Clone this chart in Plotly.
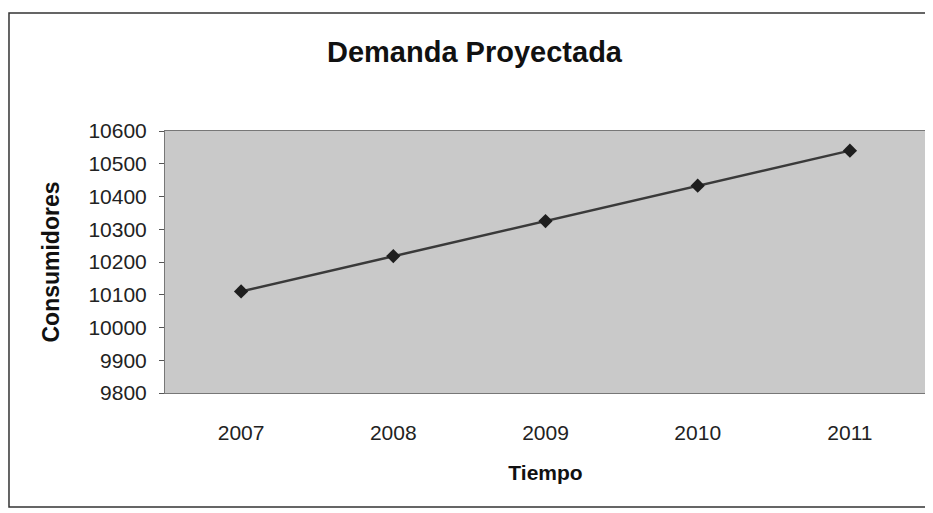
import plotly.graph_objects as go

# Data
years = ['2007', '2008', '2009', '2010', '2011']
consumidores = [10110, 10218, 10325, 10433, 10540]
y_ticks = list(range(9800, 10601, 100))

fig = go.Figure()
fig.add_trace(go.Scatter(
    x=years,
    y=consumidores,
    mode='lines+markers',
    line=dict(color='#3a3a3a', width=2.5),
    marker=dict(symbol='diamond', size=11, color='#1e1e1e'),
    showlegend=False,
))

# the page body adds an 8px offset, margins are shifted to compensate
font = 'Liberation Sans, Arial, sans-serif'
fig.update_layout(
    width=933, height=513,
    margin=dict(l=157, r=15, t=123, b=128),
    paper_bgcolor='white',
    plot_bgcolor='#c9c9c9',
    font=dict(family=font, size=21, color='#222222'),
    title=dict(text='<b>Demanda Proyectada</b>', x=0.5, xanchor='center',
               y=0.914, yanchor='middle', font=dict(size=29, color='#111111')),
    xaxis=dict(type='category', range=[-0.5, 4.5], showgrid=False,
               showline=True, linecolor='#777777', mirror=True, ticks='',
               ticklabelstandoff=21, automargin=False,
               title=dict(text='<b>Tiempo</b>', standoff=22,
                          font=dict(size=21, color='#111111'))),
    yaxis=dict(range=[9800, 10600], tickvals=y_ticks,
               ticktext=[str(v) for v in y_ticks], showgrid=False,
               showline=True, linecolor='#777777', mirror=True,
               ticks='outside', ticklen=5, tickcolor='#555555',
               ticklabelstandoff=8, automargin=False,
               title=dict(text='<b>Consumidores</b>', standoff=22,
                          font=dict(size=23, color='#111111'))),
    # outer chart frame, open on the right like the scanned original
    shapes=[dict(type='path', xref='paper', yref='paper',
                 path='M 1.1,1.45 L -0.205,1.45 L -0.205,-0.435 L 1.1,-0.435',
                 line=dict(color='#333333', width=1.5), layer='below')],
)

fig.write_html("out.html")
